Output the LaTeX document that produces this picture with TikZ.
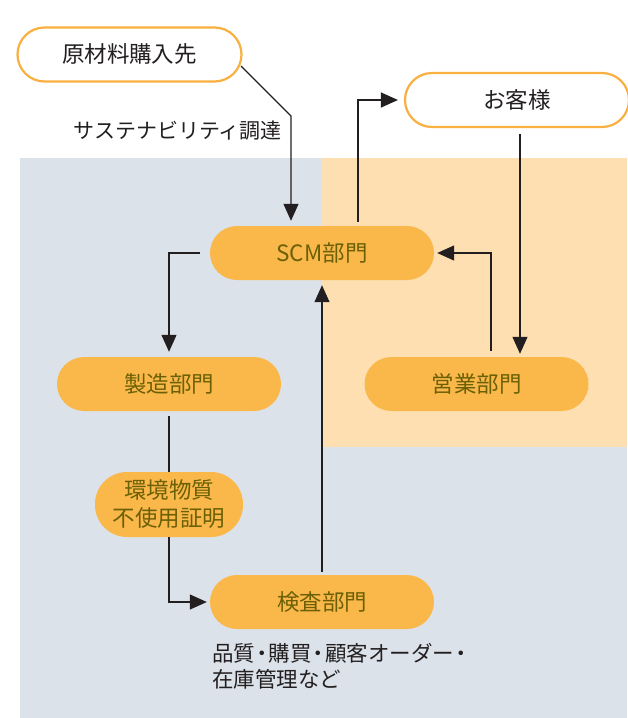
\documentclass[tikz,border=0pt]{standalone}
\usepackage{fontspec}
\setmainfont{Noto Sans CJK JP}
\usetikzlibrary{arrows.meta,calc}
\definecolor{bgblue}{HTML}{DBE2E9}
\definecolor{bgpeach}{HTML}{FDDFB1}
\definecolor{pillfill}{HTML}{FBB84A}
\definecolor{pillline}{HTML}{F9B040}
\definecolor{olive}{HTML}{6B6005}
\definecolor{ink}{HTML}{231F20}
\newcommand{\nd}{\kern-4pt・\kern-4pt}
\tikzset{
  pill/.style={rectangle, rounded corners=27pt, minimum width=224pt, minimum height=54pt,
    inner sep=0pt, fill=pillfill, text=olive, font=\fontsize{22.5}{27}\selectfont},
  outpill/.style={rectangle, rounded corners=27pt, minimum width=224pt, minimum height=54pt,
    inner sep=0pt, fill=white, draw=pillline, line width=2.2pt, text=ink, font=\fontsize{22.5}{27}\selectfont},
  conn/.style={draw=ink, line width=1.3pt},
  arr/.style={conn, -{Triangle[length=17pt,width=15pt]}},
  lbl/.style={text=ink, font=\fontsize{21}{26}\selectfont, inner sep=0pt}
}
\begin{document}
\begin{tikzpicture}[x=1pt,y=-1pt]
\useasboundingbox (0,0) rectangle (627,718);
\fill[white] (0,0) rectangle (627,718);
\fill[bgblue] (20,158) rectangle (627,718);
\fill[bgpeach] (322,158) rectangle (627,447);

\node[outpill] (src) at (129.5,54.5) {原材料購入先};
\node[outpill] (cus) at (517,100) {お客様};
\node[pill] (scm) at (322,253) {SCM部門};
\node[pill] (sales) at (476.5,384) {営業部門};
\node[pill] (mfg) at (169,384) {製造部門};
\node[pill, minimum width=148pt, minimum height=65pt, rounded corners=32pt, align=center,
      font=\fontsize{22.5}{28}\selectfont] (env) at (169,504.5) {環境物質\\不使用証明};
\node[pill] (insp) at (322,602) {検査部門};

\node[lbl, anchor=east] (sus) at (282,131) {サステナビリティ調達};
\node[lbl, anchor=north west, align=left, font=\fontsize{21.5}{26}\selectfont] (note) at (212,643) {品質\nd 購買\nd 顧客オーダー\nd\\在庫管理など};

\draw[arr, shorten >=5pt] ($(src.center)+(111.5,11.5)$) -- (291,116) -- (291,0 |- scm.north);
\draw[arr, shorten >=6pt] ($(scm.north)+(36,-4)$) |- (cus.west);
\draw[arr, shorten <=6pt, shorten >=3pt] (520,0 |- cus.south) -- (520,0 |- sales.north);
\draw[arr, shorten <=6pt, shorten >=3pt] (491,0 |- sales.north) |- (scm.east);
\draw[arr, shorten <=10pt, shorten >=5pt] (scm.west) -| (mfg.north);
\draw[conn, shorten <=5pt] (mfg.south) -- (env.north);
\draw[arr, shorten >=3pt] (env.south) |- (insp.west);
\draw[arr, shorten <=3pt, shorten >=5pt] (insp.north) -- (scm.south);
\end{tikzpicture}
\end{document}
